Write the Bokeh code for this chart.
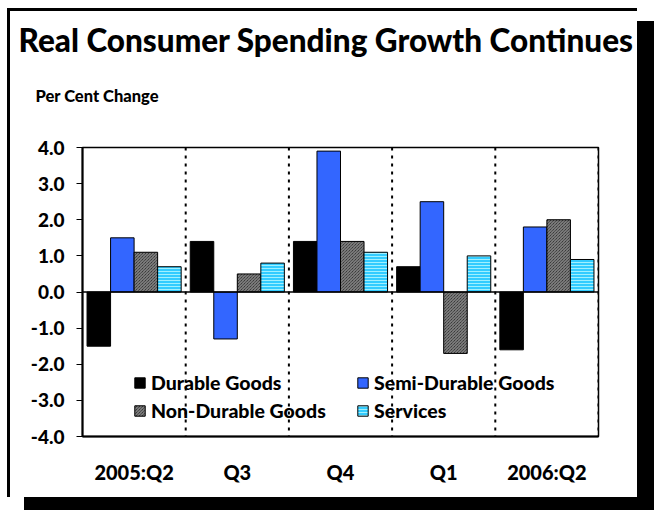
from bokeh.plotting import figure
from bokeh.models import Range1d, FixedTicker, Span, Legend, LegendItem, Title
from bokeh.embed import file_html
from bokeh.resources import INLINE

categories = ["2005:Q2", "Q3", "Q4", "Q1", "2006:Q2"]
durable = [-1.5, 1.4, 1.4, 0.7, -1.6]
semi_durable = [1.5, -1.3, 3.9, 2.5, 1.8]
non_durable = [1.1, 0.5, 1.4, -1.7, 2.0]
services = [0.7, 0.8, 1.1, 1.0, 0.9]
series_names = ["Durable Goods", "Semi-Durable Goods", "Non-Durable Goods", "Services"]
y_ticks = [-4, -3, -2, -1, 0, 1, 2, 3, 4]
y_tick_labels = ["-4.0", "-3.0", "-2.0", "-1.0", "0.0", "1.0", "2.0", "3.0", "4.0"]
title_text = "Real Consumer Spending Growth Continues"
unit_text = "Per Cent Change"

FONT = "Lato Black"
n = len(categories)

p = figure(width=630, height=489, output_backend="svg", toolbar_location=None,
           x_range=Range1d(0, n), y_range=Range1d(-4, 4),
           min_border_left=72, min_border_right=42, min_border_top=136, min_border_bottom=64,
           background_fill_color="white", border_fill_color="white",
           styles={"margin-left": "7px", "margin-top": "8px",
                   "border-left": "3px solid black", "border-top": "3px solid black",
                   "box-shadow": "17px 13px 0 0 black"})
p.outline_line_color = "black"
p.outline_line_width = 1.5
p.xgrid.visible = False
p.ygrid.visible = False

bw = 0.228
offsets = [-1.5 * bw, -0.5 * bw, 0.5 * bw, 1.5 * bw]
styles = [
    dict(fill_color="black"),
    dict(fill_color="#3366FF"),
    dict(fill_color="#1A1A1A", hatch_pattern="left_diagonal_line", hatch_color="#9A9A9A",
         hatch_scale=3, hatch_weight=1),
    dict(fill_color="#33CCFF", hatch_pattern="horizontal_line", hatch_color="#A0F0FF",
         hatch_scale=3, hatch_weight=1),
]
renderers = []
for vals, off, st in zip([durable, semi_durable, non_durable, services], offsets, styles):
    xs = [i + 0.5 + off for i in range(n)]
    r = p.vbar(x=xs, top=vals, bottom=0, width=bw, line_color="black", line_width=1, **st)
    renderers.append(r)

for i in range(1, n + 1):
    p.add_layout(Span(location=i, dimension="height", line_color="black",
                      line_width=2, line_dash="3 5"))
p.add_layout(Span(location=0, dimension="width", line_color="black", line_width=1.5))

p.yaxis.ticker = FixedTicker(ticks=y_ticks)
p.yaxis.major_label_overrides = dict(zip(y_ticks, y_tick_labels))
p.yaxis.major_tick_out = 6
p.yaxis.major_tick_in = 0
p.yaxis.minor_tick_out = 0
p.yaxis.minor_tick_in = 0
p.yaxis.major_label_standoff = 12
p.yaxis.axis_line_width = 2
p.yaxis.major_label_text_font = FONT
p.yaxis.major_label_text_font_style = "bold"
p.yaxis.major_label_text_font_size = "19px"
p.yaxis.major_label_text_color = "black"

xt = [i + 0.5 for i in range(n)]
p.xaxis.ticker = FixedTicker(ticks=xt)
p.xaxis.major_label_overrides = dict(zip(xt, categories))
p.xaxis.major_tick_out = 0
p.xaxis.major_tick_in = 0
p.xaxis.minor_tick_out = 0
p.xaxis.minor_tick_in = 0
p.xaxis.major_label_standoff = 23
p.xaxis.axis_line_width = 2
p.xaxis.major_label_text_font = FONT
p.xaxis.major_label_text_font_style = "bold"
p.xaxis.major_label_text_font_size = "20px"
p.xaxis.major_label_text_color = "black"

legend = Legend(items=[LegendItem(label=nm, renderers=[r]) for nm, r in zip(series_names, renderers)],
                location=(51, 14), orientation="horizontal", ncols=2,
                padding=0, margin=0, spacing=5, label_width=200, label_height=20,
                glyph_width=13, glyph_height=13, label_standoff=5,
                border_line_color=None, background_fill_alpha=0,
                label_text_font=FONT, label_text_font_style="bold",
                label_text_font_size="19.5px", label_text_color="black")
p.add_layout(legend, "center")

# spacer between frame and unit label
p.add_layout(Title(text=" ", standoff=13, text_font_size="1px"), "above")
p.add_layout(Title(text=unit_text, align="left", offset=-47, standoff=51,
                   text_font=FONT, text_font_style="bold", text_font_size="16.5px",
                   text_color="black"), "above")
p.add_layout(Title(text=title_text, align="left", offset=-64, standoff=0,
                   text_font=FONT, text_font_style="bold", text_font_size="31.5px",
                   text_color="black"), "above")

open("out.html", "w").write(file_html(p, INLINE))
